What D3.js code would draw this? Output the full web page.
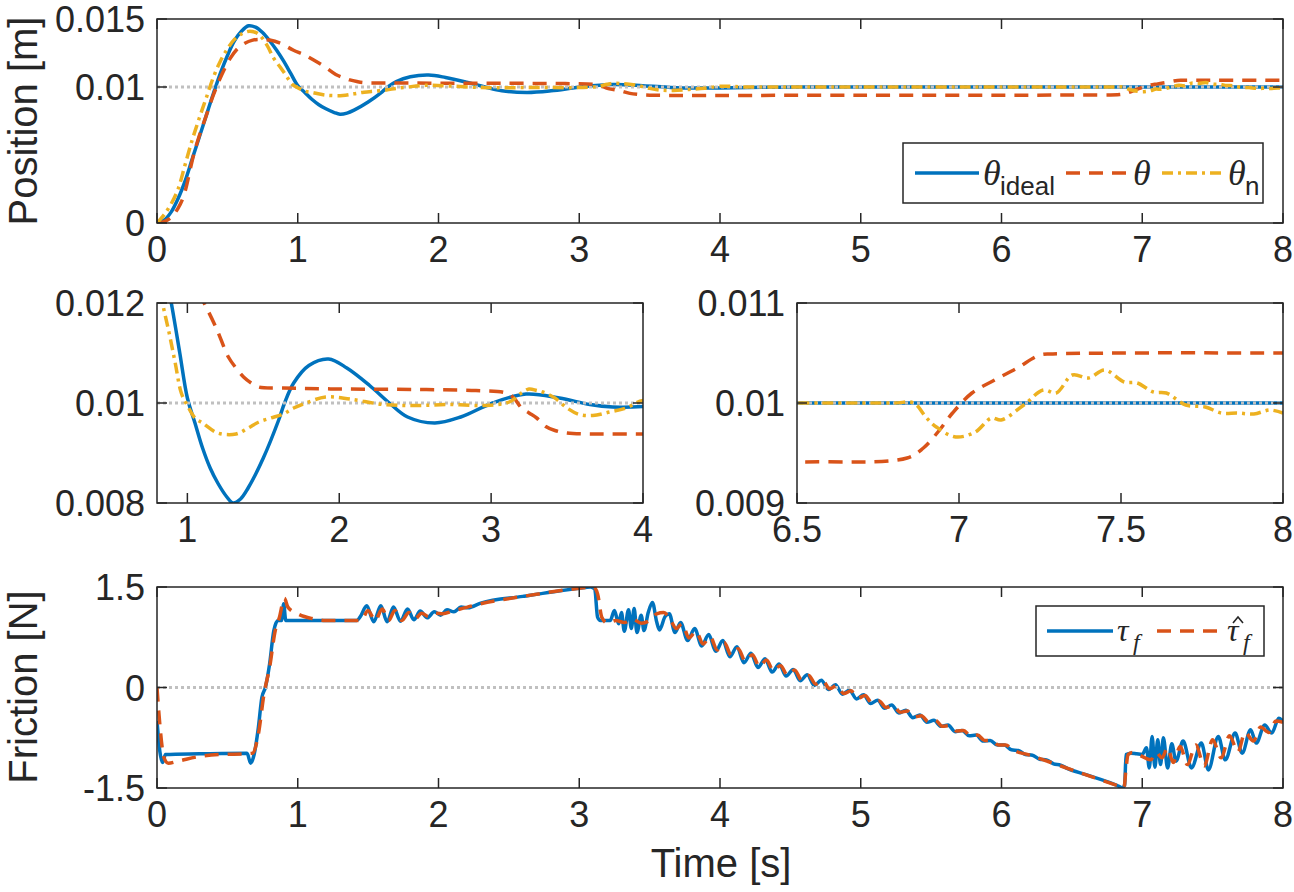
<!DOCTYPE html>
<html>
<head>
<meta charset="utf-8">
<script src="https://cdn.jsdelivr.net/npm/d3@7"></script>
<style>
  body { margin: 0; background: #fff; }
  svg text { font-family: "Liberation Sans", Arial, Helvetica, sans-serif; fill: #262626; }
</style>
</head>
<body>
<div id="chart"></div>
<script>
// ---- data: [time (s), value] ----
const thetaIdeal = [[0,0],[0.05,0.0002],[0.1,0.0008],[0.15,0.0018],[0.2,0.0031],[0.25,0.0047],[0.3,0.0063],[0.35,0.0079],
  [0.4,0.0095],[0.45,0.0110],[0.5,0.0123],[0.55,0.0134],[0.6,0.0141],[0.65,0.0145],[0.7,0.0144],[0.75,0.0140],[0.8,0.0134],
  [0.85,0.0127],[0.9,0.0119],[0.95,0.0110],[1.0,0.0101],[1.05,0.0096],[1.1,0.0091],[1.15,0.0087],[1.2,0.0084],[1.26,0.00812],
  [1.3,0.0080],[1.35,0.00808],[1.4,0.0083],[1.5,0.0089],[1.6,0.00965],[1.64,0.0100],[1.7,0.0104],[1.8,0.01075],[1.93,0.01088],
  [2.05,0.0107],[2.2,0.01035],[2.33,0.0100],[2.45,0.00972],[2.63,0.0096],[2.8,0.00972],[3.01,0.0100],[3.23,0.01018],
  [3.45,0.0101],[3.65,0.00997],[3.8,0.00992],[4.0,0.00993],[4.3,0.00998],[4.6,0.0100],[5.5,0.0100],[6.5,0.0100],[8.0,0.0100]];

const theta = [[0,0],[0.05,0.0001],[0.1,0.0004],[0.15,0.0011],[0.19,0.002],[0.26,0.005],[0.3,0.0064],[0.35,0.0079],[0.4,0.0094],
  [0.46,0.0109],[0.52,0.0121],[0.57,0.0128],[0.62,0.0132],[0.68,0.01345],[0.74,0.0135],[0.8,0.01345],[0.88,0.0132],[0.97,0.0127],
  [1.04,0.0124],[1.11,0.0120],[1.19,0.0115],[1.27,0.01092],[1.32,0.0107],[1.37,0.01052],[1.42,0.0104],[1.47,0.01032],
  [1.63,0.0103],[2.0,0.01028],[2.5,0.01027],[2.9,0.01025],[3.1,0.0102],[3.15,0.0101],[3.2,0.0099],[3.25,0.0098],[3.3,0.0097],
  [3.36,0.00953],[3.42,0.00945],[3.5,0.0094],[4.0,0.00938],[5.0,0.0094],[6.0,0.0094],[6.5,0.00941],[6.84,0.00945],
  [6.89,0.00955],[6.94,0.00973],[6.98,0.0099],[7.04,0.0101],[7.11,0.01023],[7.18,0.01035],[7.25,0.01048],[7.29,0.01049],
  [7.5,0.0105],[8.0,0.0105]];

const thetaN = [[0,0],[0.05,0.0006],[0.1,0.0014],[0.15,0.0025],[0.2,0.0043],[0.25,0.0061],[0.3,0.0077],[0.35,0.0092],
  [0.4,0.0107],[0.45,0.0119],[0.5,0.0128],[0.55,0.0135],[0.6,0.0139],[0.66,0.0141],[0.72,0.0139],[0.78,0.0131],[0.83,0.0121],
  [0.88,0.0114],[0.92,0.0108],[0.96,0.0102],[1.0,0.00995],[1.05,0.0097],[1.1,0.0096],[1.2,0.0094],[1.32,0.00938],[1.4,0.0095],
  [1.47,0.00962],[1.55,0.0097],[1.63,0.00978],[1.7,0.0099],[1.78,0.0100],[1.91,0.01012],[2.07,0.01008],[2.29,0.00997],
  [2.5,0.00995],[2.73,0.00997],[2.95,0.00995],[3.12,0.01002],[3.2,0.0102],[3.25,0.01028],[3.3,0.01025],[3.34,0.01022],
  [3.42,0.0101],[3.5,0.0099],[3.58,0.00977],[3.67,0.00975],[3.78,0.00982],[3.89,0.0099],[4.0,0.01005],[4.2,0.0100],
  [4.6,0.0100],[5.2,0.0100],[5.8,0.0100],[6.3,0.0100],[6.6,0.0100],[6.8,0.0100],
  [6.86,0.0100],[6.9,0.00985],[6.93,0.00976],[6.99,0.00966],[7.05,0.00971],[7.1,0.00985],[7.13,0.00983],[7.2,0.00998],
  [7.26,0.01013],[7.3,0.0101],[7.35,0.01028],[7.4,0.01025],[7.45,0.01033],[7.51,0.01021],[7.55,0.0102],[7.6,0.01011],
  [7.64,0.0101],[7.7,0.00998],[7.76,0.00996],[7.81,0.0099],[7.86,0.0099],[7.91,0.00989],[7.96,0.00993],[8.0,0.0099]];

const tauF = [[0,-0.5],[0.02,-0.95],[0.04,-1.12],[0.06,-1.0],[0.3,-0.99],[0.64,-0.98],[0.665,-1.13],[0.69,-1.0],[0.72,-0.6],
  [0.745,-0.15],[0.77,0.0],[0.8,0.35],[0.83,0.85],[0.86,1.0],[0.885,1.0],[0.9,1.25],[0.915,1.0],[1.42,1.0],[1.445,1.06],
  [1.49,1.22],[1.54,0.98],[1.59,1.22],[1.635,0.98],[1.68,1.2],[1.73,0.99],[1.78,1.17],[1.825,1.01],[1.87,1.14],[1.92,1.04],
  [1.97,1.13],[2.015,1.08],[2.06,1.16],[2.11,1.13],[2.16,1.2],[2.21,1.19],[2.3,1.26],[2.6,1.36],[3.0,1.48],[3.08,1.5],
  [3.11,1.47],[3.13,1.05],[3.15,1.0],[3.22,1.0],[3.25,1.15],[3.28,0.95],[3.30,1.12],[3.32,0.84],[3.35,1.16],[3.37,0.88],
  [3.39,1.18],[3.41,0.82],[3.44,1.08],[3.46,0.85],[3.49,1.12],[3.52,1.27],[3.55,0.98],[3.57,0.86],[3.61,1.06],[3.64,1.1],
  [3.68,0.82],[3.72,0.97],[3.77,0.70],[3.82,0.88],[3.87,0.62],[3.92,0.79],[3.97,0.54],[4.02,0.70],[4.07,0.46],[4.12,0.61],
  [4.17,0.37],[4.22,0.51],[4.27,0.30],[4.32,0.43],[4.37,0.23],[4.42,0.35],[4.47,0.17],[4.52,0.27],[4.57,0.10],[4.62,0.19],
  [4.67,0.03],[4.72,0.11],[4.77,-0.03],[4.82,0.04],[4.87,-0.10],[4.92,-0.04],[4.97,-0.17],[5.02,-0.11],[5.07,-0.24],
  [5.12,-0.19],[5.17,-0.31],[5.22,-0.26],[5.27,-0.38],[5.32,-0.34],[5.37,-0.45],[5.42,-0.41],[5.47,-0.52],[5.52,-0.49],
  [5.57,-0.58],[5.62,-0.56],[5.67,-0.66],[5.72,-0.64],[5.77,-0.72],[5.82,-0.71],[5.87,-0.80],[5.92,-0.79],[5.97,-0.86],
  [6.02,-0.86],[6.07,-0.93],[6.12,-0.94],[6.17,-1.00],[6.22,-1.01],[6.27,-1.07],[6.32,-1.08],[6.37,-1.14],[6.42,-1.16],
  [6.47,-1.21],[6.6,-1.3],[6.83,-1.47],[6.86,-1.5],[6.875,-1.45],[6.885,-1.0],[6.92,-0.98],[6.96,-0.99],[7.0,-1.0],
  [7.03,-0.9],[7.05,-1.2],[7.07,-0.73],[7.09,-1.19],[7.11,-0.78],[7.13,-1.15],[7.15,-0.75],[7.18,-1.2],[7.21,-0.84],
  [7.24,-1.1],[7.29,-0.8],[7.35,-1.2],[7.42,-0.83],[7.47,-1.23],[7.54,-0.73],[7.59,-1.08],[7.66,-0.68],[7.71,-0.98],
  [7.77,-0.63],[7.81,-0.83],[7.87,-0.56],[7.92,-0.68],[7.97,-0.46],[8.0,-0.5]];

const tauHat = [[0,0],[0.02,-0.55],[0.05,-1.05],[0.08,-1.13],[0.15,-1.1],[0.3,-1.03],[0.45,-1.0],[0.64,-0.99],[0.68,-0.98],
  [0.72,-0.7],[0.76,-0.1],[0.8,0.3],[0.84,0.85],[0.87,1.05],[0.905,1.33],[0.93,1.2],[1.0,1.1],[1.1,1.03],[1.2,1.0],[1.45,1.0],
  [1.5,1.15],[1.55,1.0],[1.6,1.17],[1.645,1.0],[1.69,1.15],[1.74,1.0],[1.79,1.12],[1.835,1.03],[1.88,1.11],[1.93,1.06],
  [1.98,1.11],[2.03,1.1],[2.1,1.14],[2.3,1.25],[2.6,1.36],[3.0,1.48],[3.1,1.5],[3.13,1.4],[3.16,1.05],[3.2,0.96],[3.26,1.0],
  [3.32,0.97],[3.38,1.02],[3.44,0.96],[3.5,1.0],[3.55,1.1],[3.6,1.12],[3.65,1.0],[3.69,0.88],[3.73,0.95],[3.78,0.74],
  [3.83,0.84],[3.88,0.65],[3.93,0.76],[3.98,0.56],[4.03,0.67],[4.08,0.48],[4.13,0.58],[4.18,0.39],[4.23,0.49],[4.28,0.31],
  [4.33,0.41],[4.38,0.25],[4.43,0.33],[4.48,0.18],[4.53,0.26],[4.58,0.11],[4.63,0.18],[4.68,0.05],[4.73,0.10],[4.78,-0.02],
  [4.83,0.03],[4.88,-0.09],[4.93,-0.05],[4.98,-0.16],[5.03,-0.12],[5.08,-0.23],[5.13,-0.20],[5.18,-0.30],[5.23,-0.27],
  [5.28,-0.37],[5.33,-0.35],[5.38,-0.44],[5.43,-0.42],[5.48,-0.51],[5.53,-0.49],[5.58,-0.58],[5.63,-0.57],[5.68,-0.65],
  [5.73,-0.64],[5.78,-0.72],[5.83,-0.71],[5.88,-0.79],[5.93,-0.79],[5.98,-0.86],[6.03,-0.86],[6.08,-0.93],[6.2,-1.01],
  [6.5,-1.23],[6.83,-1.47],[6.87,-1.5],[6.885,-1.2],[6.9,-1.0],[6.93,-0.97],[6.97,-1.0],[7.02,-1.05],[7.06,-1.08],
  [7.1,-0.97],[7.14,-1.05],[7.18,-0.9],[7.22,-1.12],[7.27,-0.88],[7.32,-1.15],[7.38,-0.86],[7.44,-1.17],[7.5,-0.78],
  [7.56,-1.05],[7.62,-0.72],[7.68,-0.96],[7.73,-0.67],[7.79,-0.8],[7.84,-0.59],[7.9,-0.67],[7.95,-0.5],[8.0,-0.52]];

const posRef = 0.01;
const fricRef = 0;

// tick values / labels
const xTicksFull = [0, 1, 2, 3, 4, 5, 6, 7, 8];
const xTicksZoomA = [1, 2, 3, 4];
const xTicksZoomB = [6.5, 7, 7.5, 8];
const yTicksPos = [0, 0.01, 0.015];
const yTicksZoomA = [0.008, 0.01, 0.012];
const yTicksZoomB = [0.009, 0.01, 0.011];
const yTicksFric = [-1.5, 0, 1.5];

const C_BLUE = "#0072BD", C_RED = "#D95319", C_YEL = "#EDB120", C_AX = "#262626";
const LW = 3.5;
const DASH = "14,9", DASHDOT = "11,5,3,5", DOT = "3,3";

const width = 1294, height = 892;
const svg = d3.select("#chart").append("svg")
  .attr("width", width).attr("height", height);

let clipId = 0;

function panel(box, xDom, yDom, xTicks, yTicks) {
  const x = d3.scaleLinear().domain(xDom).range([box.l, box.r]);
  const y = d3.scaleLinear().domain(yDom).range([box.b, box.t]);
  const g = svg.append("g");
  const id = "clip" + (clipId++);
  svg.append("clipPath").attr("id", id).append("rect")
    .attr("x", box.l).attr("y", box.t).attr("width", box.r - box.l).attr("height", box.b - box.t);
  const plot = g.append("g").attr("clip-path", `url(#${id})`);

  // axis frame + inward ticks on all four sides
  const ax = g.append("g");
  ax.append("rect").attr("x", box.l).attr("y", box.t)
    .attr("width", box.r - box.l).attr("height", box.b - box.t)
    .attr("fill", "none").attr("stroke", C_AX).attr("stroke-width", 1.5);
  const tl = 10;
  xTicks.forEach(v => {
    ax.append("line").attr("x1", x(v)).attr("x2", x(v)).attr("y1", box.b).attr("y2", box.b - tl)
      .attr("stroke", C_AX).attr("stroke-width", 1.5);
    ax.append("line").attr("x1", x(v)).attr("x2", x(v)).attr("y1", box.t).attr("y2", box.t + tl)
      .attr("stroke", C_AX).attr("stroke-width", 1.5);
    ax.append("text").attr("x", x(v)).attr("y", box.b + 39).attr("text-anchor", "middle")
      .attr("font-size", 36).text(String(v));
  });
  yTicks.forEach(v => {
    ax.append("line").attr("x1", box.l).attr("x2", box.l + tl).attr("y1", y(v)).attr("y2", y(v))
      .attr("stroke", C_AX).attr("stroke-width", 1.5);
    ax.append("line").attr("x1", box.r).attr("x2", box.r - tl).attr("y1", y(v)).attr("y2", y(v))
      .attr("stroke", C_AX).attr("stroke-width", 1.5);
    ax.append("text").attr("x", box.l - 12).attr("y", y(v) + 13).attr("text-anchor", "end")
      .attr("font-size", 36).text(String(v));
  });
  return { x, y, plot, g };
}

function drawLine(p, data, color, dash, curve) {
  const line = d3.line().x(d => p.x(d[0])).y(d => p.y(d[1])).curve(curve || d3.curveMonotoneX);
  p.plot.append("path").datum(data).attr("d", line)
    .attr("fill", "none").attr("stroke", color).attr("stroke-width", LW)
    .attr("stroke-dasharray", dash || null).attr("stroke-linejoin", "round");
}

function refLine(p, v) {
  const [x0, x1] = p.x.range();
  p.plot.append("line").attr("x1", x0).attr("x2", x1).attr("y1", p.y(v)).attr("y2", p.y(v))
    .attr("stroke", "#c0c0c0").attr("stroke-width", 3).attr("stroke-dasharray", DOT);
}

const smooth = d3.curveCatmullRom.alpha(0.5);
function positionPanel(p) {
  drawLine(p, thetaIdeal, C_BLUE, null, smooth);
  refLine(p, posRef);
  drawLine(p, theta, C_RED, DASH, smooth);
  drawLine(p, thetaN, C_YEL, DASHDOT, smooth);
}

// ---- panels ----
const pTop = panel({ l: 157, r: 1283, t: 19, b: 223 }, [0, 8], [0, 0.015], xTicksFull, yTicksPos);
positionPanel(pTop);
const pA = panel({ l: 157, r: 643, t: 303, b: 503 }, [0.8, 4], [0.008, 0.012], xTicksZoomA, yTicksZoomA);
positionPanel(pA);
const pB = panel({ l: 797, r: 1283, t: 303, b: 503 }, [6.5, 8], [0.009, 0.011], xTicksZoomB, yTicksZoomB);
positionPanel(pB);
const pBot = panel({ l: 157, r: 1283, t: 587, b: 788 }, [0, 8], [-1.5, 1.5], xTicksFull, yTicksFric);
drawLine(pBot, tauF, C_BLUE);
refLine(pBot, fricRef);
drawLine(pBot, tauHat, C_RED, DASH);

// ---- axis labels ----
svg.append("text").attr("transform", "translate(37,121) rotate(-90)")
  .attr("text-anchor", "middle").attr("font-size", 40).text("Position [m]");
svg.append("text").attr("transform", "translate(37,687) rotate(-90)")
  .attr("text-anchor", "middle").attr("font-size", 40).text("Friction [N]");
svg.append("text").attr("x", 721).attr("y", 877)
  .attr("text-anchor", "middle").attr("font-size", 40).text("Time [s]");

// ---- legends ----
const serif = "'Liberation Serif', 'DejaVu Serif', serif";
const lg1 = svg.append("g");
lg1.append("rect").attr("x", 903).attr("y", 143).attr("width", 360).attr("height", 60)
  .attr("fill", "#fff").attr("stroke", C_AX).attr("stroke-width", 1.5);
const leg1 = [
  { x1: 915, x2: 979, c: C_BLUE, d: null, tx: 983, sub: "ideal" },
  { x1: 1066, x2: 1128, c: C_RED, d: DASH, tx: 1133, sub: "" },
  { x1: 1162, x2: 1222, c: C_YEL, d: DASHDOT, tx: 1228, sub: "n" }
];
leg1.forEach(e => {
  lg1.append("line").attr("x1", e.x1).attr("x2", e.x2).attr("y1", 173).attr("y2", 173)
    .attr("stroke", e.c).attr("stroke-width", LW).attr("stroke-dasharray", e.d);
  lg1.append("text").attr("x", e.tx).attr("y", 185).attr("font-size", 36)
    .style("font-family", serif).style("font-style", "italic").text("θ");
  if (e.sub) lg1.append("text").attr("x", e.tx + 17).attr("y", 195).attr("font-size", 26).text(e.sub);
});

const lg2 = svg.append("g");
lg2.append("rect").attr("x", 1036).attr("y", 606).attr("width", 228).attr("height", 50)
  .attr("fill", "#fff").attr("stroke", C_AX).attr("stroke-width", 1.5);
lg2.append("line").attr("x1", 1047).attr("x2", 1113).attr("y1", 631).attr("y2", 631)
  .attr("stroke", C_BLUE).attr("stroke-width", LW);
lg2.append("line").attr("x1", 1157).attr("x2", 1220).attr("y1", 631).attr("y2", 631)
  .attr("stroke", C_RED).attr("stroke-width", LW).attr("stroke-dasharray", DASH);
[[1117, false], [1227, true]].forEach(([tx, hat]) => {
  lg2.append("text").attr("x", tx).attr("y", 641).attr("font-size", 32)
    .style("font-family", serif).style("font-style", "italic").text("τ");
  lg2.append("text").attr("x", tx + 16).attr("y", 650).attr("font-size", 24)
    .style("font-family", serif).style("font-style", "italic").text("f");
  if (hat) lg2.append("path")
    .attr("d", `M${tx + 6},${623} L${tx + 11},${617} L${tx + 16},${623}`)
    .attr("fill", "none").attr("stroke", C_AX).attr("stroke-width", 1.6);
});
</script>
</body>
</html>
